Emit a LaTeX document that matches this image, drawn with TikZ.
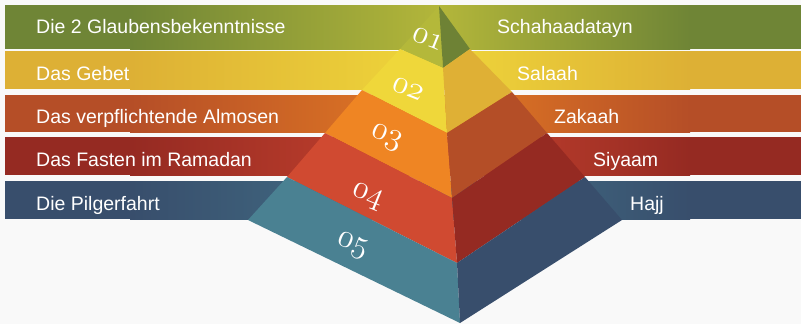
\documentclass[tikz,border=0pt]{standalone}
\usepackage{fontspec}
\setmainfont{Liberation Sans}
\usetikzlibrary{calc,positioning}

\definecolor{bgcol}{HTML}{F9F9F9}
% band colours: dark (outer) and light (near the pyramid)
\definecolor{oliveD}{HTML}{6F8536}
\definecolor{oliveL}{HTML}{B3B63A}
\definecolor{goldD}{HTML}{DDB035}
\definecolor{goldL}{HTML}{EFD63A}
\definecolor{rustD}{HTML}{B54E27}
\definecolor{rustL}{HTML}{E37B24}
\definecolor{redD}{HTML}{952A22}
\definecolor{redL}{HTML}{C8442F}
\definecolor{slateD}{HTML}{384E6C}
\definecolor{slateL}{HTML}{447389}
% pyramid faces
\definecolor{p1L}{HTML}{B4B83A}
\definecolor{p1R}{HTML}{6E8235}
\definecolor{p2L}{HTML}{EFD73A}
\definecolor{p2R}{HTML}{DFB035}
\definecolor{p3L}{HTML}{EF8523}
\definecolor{p3R}{HTML}{B44E27}
\definecolor{p4L}{HTML}{D04A31}
\definecolor{p4R}{HTML}{952A22}
\definecolor{p5L}{HTML}{4A8192}
\definecolor{p5R}{HTML}{384E6C}

% #1 top, #2 bottom, #3 dark, #4 light
\newcommand{\pyrband}[4]{%
  \fill[#3] (5,#1) rectangle (130,#2);
  \shade[left color=#3, right color=#4] (130,#1) rectangle (440,#2);
  \shade[left color=#4, right color=#3] (440,#1) rectangle (690,#2);
  \fill[#3] (690,#1) rectangle (801,#2);}

% old style italic figures
\newcommand{\lvlnum}[1]{{\fontsize{24.88}{25}\usefont{OML}{cmm}{m}{it}#1}}

\begin{document}
\begin{tikzpicture}[%
    x=1pt, y=-1pt,
    text=white,
    node font=\fontsize{19.5}{22}\selectfont,
    lbl/.style={anchor=base west, inner sep=0},
    num/.style={scale=1.3, transform shape, rotate=-22, inner sep=0}]

  \fill[bgcol] (0,0) rectangle (801,324);
  \useasboundingbox (0,0) rectangle (801,324);

  % --- bands ------------------------
  \pyrband{5}{49}{oliveD}{oliveL}
  \pyrband{51}{89}{goldD}{goldL}
  \pyrband{95}{132}{rustD}{rustL}
  \pyrband{137}{175}{redD}{redL}
  \pyrband{181}{219}{slateD}{slateL}

  % --- pyramid ----------------------
  \coordinate (A) at (439,6);
  \coordinate (L1) at (400,49);
  \coordinate (L2) at (362,90);
  \coordinate (L3) at (325,133);
  \coordinate (L4) at (287,177);
  \coordinate (L5) at (248,220);
  \coordinate (C1) at (443,68);
  \coordinate (C2) at (447,133);
  \coordinate (C3) at (452,198);
  \coordinate (C4) at (457,263);
  \coordinate (C5) at (460,323);
  \coordinate (R1) at (470,49);
  \coordinate (R2) at (512,92);
  \coordinate (R3) at (547,133);
  \coordinate (R4) at (585,177);
  \coordinate (R5) at (622,220);

  \fill[p1L] (A) -- (C1) -- (L1) -- cycle;
  \fill[p1R] (A) -- (C1) -- (R1) -- cycle;
  \fill[p2L] (L1) -- (C1) -- (C2) -- (L2) -- cycle;
  \fill[p2R] (R1) -- (C1) -- (C2) -- (R2) -- cycle;
  \fill[p3L] (L2) -- (C2) -- (C3) -- (L3) -- cycle;
  \fill[p3R] (R2) -- (C2) -- (C3) -- (R3) -- cycle;
  \fill[p4L] (L3) -- (C3) -- (C4) -- (L4) -- cycle;
  \fill[p4R] (R3) -- (C3) -- (C4) -- (R4) -- cycle;
  \fill[p5L] (L4) -- (C4) -- (C5) -- (L5) -- cycle;
  \fill[p5R] (R4) -- (C4) -- (C5) -- (R5) -- cycle;

  % level numbers
  \node (N1) [num] at (428,39) {\lvlnum{01}};
  \node (N2) [num] at (408,89) {\lvlnum{02}};
  \node (N3) [num] at (386,138) {\lvlnum{03}};
  \node (N4) [num] at (367,197) {\lvlnum{04}};
  \node (N5) [num] at (352,246) {\lvlnum{05}};

  % --- labels -----------------------
  \node (GLB) [lbl] at (36,34) {Die 2 Glaubensbekenntnisse};
  \node (GEB) [lbl] at (36,80.5) {Das Gebet};
  \node (ALM) [lbl] at (36,123.5) {Das verpflichtende Almosen};
  \node (FST) [lbl] at (36,166.5) {Das Fasten im Ramadan};
  \node (PLG) [lbl] at (36,210) {Die Pilgerfahrt};

  \node (SHD) [lbl] at (497,34) {Schahaadatayn};
  \node (SLH) [lbl] at (517,80.5) {Salaah};
  \node (ZKH) [lbl] at (554,123.5) {Zakaah};
  \node (SYM) [lbl] at (593,166.5) {Siyaam};
  \node (HJJ) [lbl] at (630,210) {Hajj};
\end{tikzpicture}
\end{document}
